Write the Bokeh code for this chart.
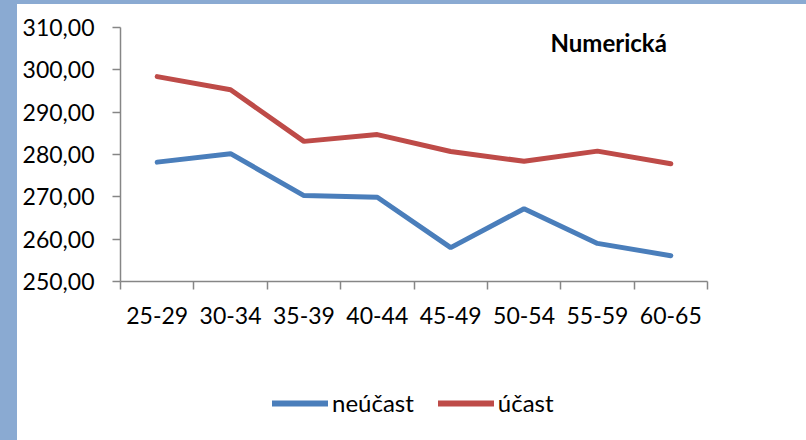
from bokeh.plotting import figure
from bokeh.models import (Range1d, FixedTicker, Legend, LegendItem, Label, ColumnDataSource, Spacer)
from bokeh.layouts import row, column
from bokeh.embed import file_html
from bokeh.resources import INLINE

categories = ["25-29", "30-34", "35-39", "40-44", "45-49", "50-54", "55-59", "60-65"]
neucast = [278.2, 280.2, 270.3, 269.9, 258.0, 267.2, 259.0, 256.1]
ucast = [298.4, 295.3, 283.1, 284.7, 280.7, 278.4, 280.8, 277.8]
series_names = ["neúčast", "účast"]
series_cols = ["neucast", "ucast"]
series_colors = ["#4A7EBB", "#BE4B48"]
y_ticks = [250, 260, 270, 280, 290, 300, 310]
y_tick_labels = ["250,00", "260,00", "270,00", "280,00", "290,00", "300,00", "310,00"]
title_text = "Numerická"

FONT = "Lato"
FRAME_BLUE = "#8AAAD2"
n = len(categories)
xs = [i + 0.5 for i in range(n)]

p = figure(width=789, height=336, output_backend="svg", toolbar_location=None,
           x_range=Range1d(0, n), y_range=Range1d(y_ticks[0], y_ticks[-1]),
           min_border_left=103, min_border_right=99, min_border_top=23, min_border_bottom=59)
p.outline_line_color = None
p.grid.visible = False
p.background_fill_color = "white"
p.border_fill_color = "white"

src = ColumnDataSource(dict(x=xs, neucast=neucast, ucast=ucast))
for col, color in zip(series_cols, series_colors):
    p.line("x", col, source=src, line_color=color, line_width=5, line_cap="round")

xa = p.xaxis[0]
xa.ticker = FixedTicker(ticks=xs, minor_ticks=list(range(n + 1)))
xa.major_label_overrides = {x: c for x, c in zip(xs, categories)}
xa.major_tick_out = 0
xa.major_tick_in = 0
xa.minor_tick_out = 8
xa.minor_tick_in = 0
xa.minor_tick_line_color = "#868686"
xa.axis_line_color = "#868686"
xa.axis_line_width = 1.5
xa.minor_tick_line_width = 1.5
xa.major_label_text_font = FONT
xa.major_label_text_font_size = "23px"
xa.major_label_text_color = "black"
xa.major_label_standoff = 17

ya = p.yaxis[0]
ya.ticker = FixedTicker(ticks=y_ticks, minor_ticks=[])
ya.major_label_overrides = {t: l for t, l in zip(y_ticks, y_tick_labels)}
ya.major_tick_out = 8
ya.major_tick_in = 0
ya.major_tick_line_color = "#868686"
ya.major_tick_line_width = 1.5
ya.axis_line_color = "#868686"
ya.axis_line_width = 1.5
ya.major_label_text_font = FONT
ya.major_label_text_font_size = "23px"
ya.major_label_text_color = "black"
ya.major_label_standoff = 18

title = Label(x=430, y=225, x_units="screen", y_units="screen", text=title_text,
              text_font=FONT, text_font_style="bold", text_font_size="24px",
              text_color="black")
p.add_layout(title)

# legend figure: same series drawn out of its visible range, only legend shows
pl = figure(width=789, height=100, output_backend="svg", toolbar_location=None,
            x_range=Range1d(0, 1), y_range=Range1d(0, 1),
            min_border_left=0, min_border_right=0, min_border_top=0, min_border_bottom=0,
            x_axis_type=None, y_axis_type=None)
pl.outline_line_color = None
pl.grid.visible = False
pl.border_fill_color = "white"
pl.background_fill_color = "white"
items = []
for name, col, color in zip(series_names, series_cols, series_colors):
    r = pl.line("x", col, source=src, line_color=color, line_width=6, line_cap="round")
    items.append(LegendItem(label=name, renderers=[r]))
legend = Legend(items=items, orientation="horizontal", location=(152, 23),
                glyph_width=56, glyph_height=20, label_standoff=4, spacing=24,
                padding=0, margin=0, border_line_color=None,
                background_fill_alpha=0, label_text_font=FONT,
                label_text_font_size="24px", label_text_color="black",
                label_height=20)
pl.add_layout(legend)

left_strip = Spacer(width=17, height=440, styles={"background-color": FRAME_BLUE})
top_strip = Spacer(width=789, height=4, styles={"background-color": FRAME_BLUE})
layout = row(left_strip, column(top_strip, p, pl, spacing=0), spacing=0)

open("out.html", "w").write(file_html(layout, INLINE))
